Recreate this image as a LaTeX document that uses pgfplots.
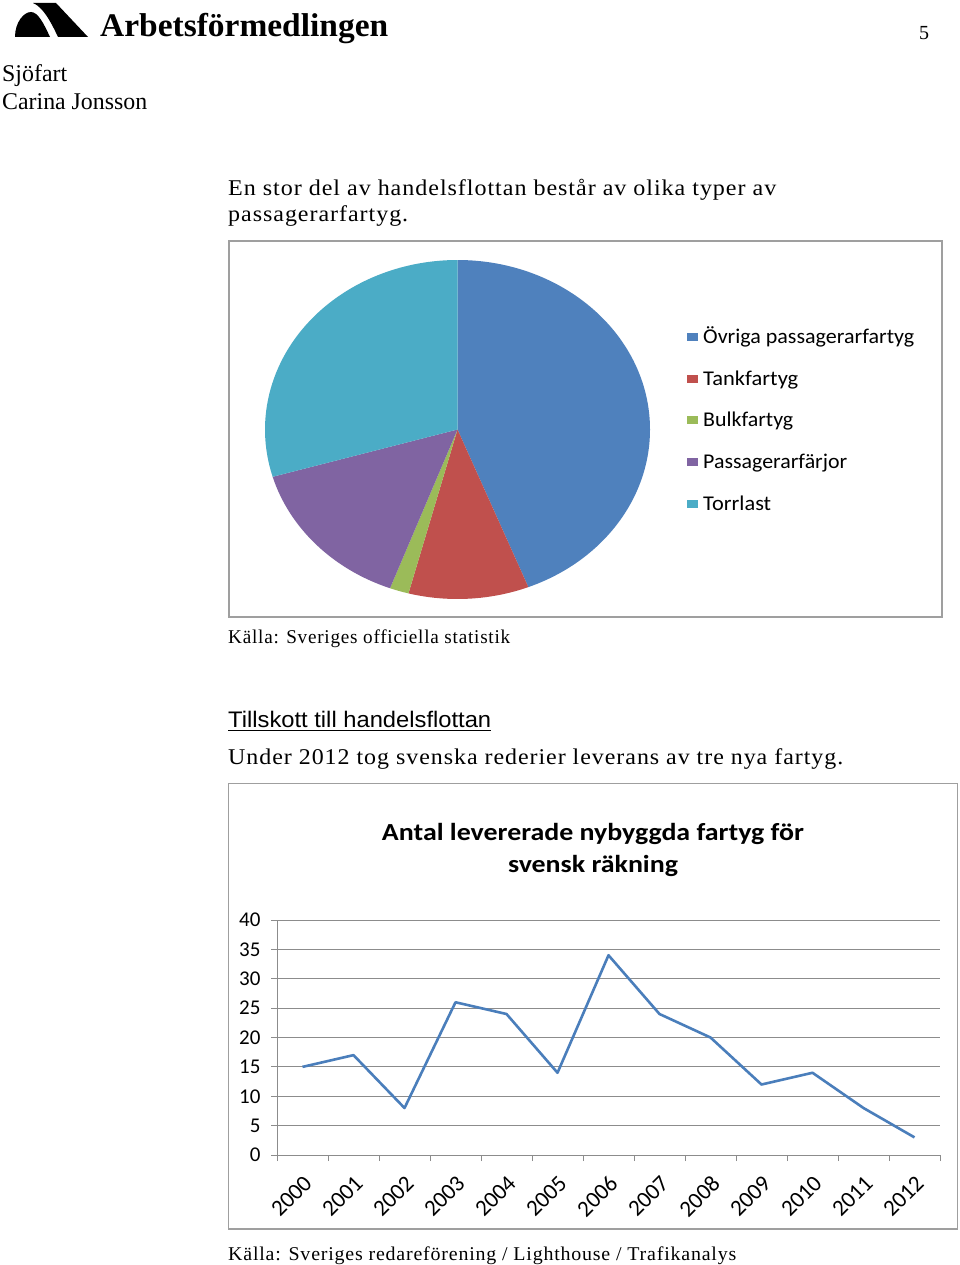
\documentclass[border=0pt]{standalone}
\usepackage{fontspec}
\usepackage{graphicx}
\usepackage{pgfplots}
\usepackage{pgfplotstable}
\pgfplotsset{compat=1.18}
\setmainfont{Liberation Serif}
\newfontfamily\spaced[LetterSpace=4]{Liberation Serif}
\newfontfamily\calibri{Carlito}
\newfontfamily\arial{Liberation Sans}
\definecolor{cBlue}{HTML}{4F81BD}
\definecolor{cRed}{HTML}{C0504D}
\definecolor{cGreen}{HTML}{9BBB59}
\definecolor{cPurple}{HTML}{8064A2}
\definecolor{cCyan}{HTML}{4BACC6}
\definecolor{cLine}{HTML}{4A7EBB}
\definecolor{cGrid}{HTML}{8C8C8C}
\newcommand\fitw[2]{\resizebox{#1}{\height}{#2}}

% share of the merchant fleet (percent)
\pgfplotstableread{
type value
Ovriga 44.0
Tank 10.1
Bulk 1.6
Farjor 14.8
Torrlast 29.5
}\piedata

% delivered new-built ships
\pgfplotstableread{
year count
2000 15
2001 17
2002 8
2003 26
2004 24
2005 14
2006 34
2007 24
2008 20
2009 12
2010 14
2011 8
2012 3
}\fleet

\begin{document}
\begin{tikzpicture}[x=1pt,y=1pt]
\useasboundingbox (0,0) rectangle (960,-1265);
\fill[white] (0,0) rectangle (960,-1265);

% ---- header ----
\fill[black] (15,-37) .. controls (15,-22) and (24,-12) .. (31,-12)
  .. controls (38,-12) and (44,-24) .. (50,-37) -- cycle;
\fill[black] (33,-3) -- (56,-3) -- (88,-37) -- (58,-37)
  .. controls (51,-22) and (43,-7) .. (33,-3) -- cycle;
\node[anchor=base west, inner sep=0] at (100,-37)
  {\fitw{288pt}{\fontsize{33}{33}\selectfont\bfseries Arbetsförmedlingen}};
\node[anchor=base west, inner sep=0] at (919,-40) {\fontsize{20}{20}\selectfont 5};
\node[anchor=base west, inner sep=0] at (2,-82) {\fitw{65pt}{\fontsize{24}{24}\selectfont Sjöfart}};
\node[anchor=base west, inner sep=0] at (2,-110) {\fitw{145pt}{\fontsize{24}{24}\selectfont Carina Jonsson}};

% ---- text ----
\node[anchor=base west, inner sep=0] at (228,-196)
  {\fitw{548pt}{\spaced\fontsize{22.5}{22.5}\selectfont En stor del av handelsflottan består av olika typer av}};
\node[anchor=base west, inner sep=0] at (228,-222)
  {\fitw{180pt}{\spaced\fontsize{22.5}{22.5}\selectfont passagerarfartyg.}};

% ---- pie chart ----
\draw[gray!75, line width=2pt] (229,-241) rectangle (942,-617);
\pgfplotstablegetelem{0}{value}\of\piedata \pgfmathsetmacro\aB{90-3.6*\pgfplotsretval}
\pgfplotstablegetelem{1}{value}\of\piedata \pgfmathsetmacro\aC{\aB-3.6*\pgfplotsretval}
\pgfplotstablegetelem{2}{value}\of\piedata \pgfmathsetmacro\aD{\aC-3.6*\pgfplotsretval}
\pgfplotstablegetelem{3}{value}\of\piedata \pgfmathsetmacro\aE{\aD-3.6*\pgfplotsretval}
\pgfplotstablegetelem{4}{value}\of\piedata \pgfmathsetmacro\aF{\aE-3.6*\pgfplotsretval}
\begin{axis}[at={(457.5pt,-429.5pt)}, anchor=center, scale only axis,
  width=385pt, height=339pt, xmin=-1, xmax=1, ymin=-1, ymax=1,
  hide axis, clip=false]
\fill[cBlue] (axis cs:0,0) -- (axis cs:{cos(90)},{sin(90)})
  arc[start angle=90, end angle=\aB, x radius=192.5pt, y radius=169.5pt] -- cycle;
\fill[cRed] (axis cs:0,0) -- (axis cs:{cos(\aB)},{sin(\aB)})
  arc[start angle=\aB, end angle=\aC, x radius=192.5pt, y radius=169.5pt] -- cycle;
\fill[cGreen] (axis cs:0,0) -- (axis cs:{cos(\aC)},{sin(\aC)})
  arc[start angle=\aC, end angle=\aD, x radius=192.5pt, y radius=169.5pt] -- cycle;
\fill[cPurple] (axis cs:0,0) -- (axis cs:{cos(\aD)},{sin(\aD)})
  arc[start angle=\aD, end angle=\aE, x radius=192.5pt, y radius=169.5pt] -- cycle;
\fill[cCyan] (axis cs:0,0) -- (axis cs:{cos(\aE)},{sin(\aE)})
  arc[start angle=\aE, end angle=\aF, x radius=192.5pt, y radius=169.5pt] -- cycle;
\end{axis}
% legend
\fill[cBlue]   (686.5,-332.5) rectangle (698,-340.5);
\fill[cRed]    (686.5,-374.5) rectangle (698,-382.5);
\fill[cGreen]  (686.5,-416) rectangle (698,-424);
\fill[cPurple] (686.5,-458) rectangle (698,-466);
\fill[cCyan]   (686.5,-499.5) rectangle (698,-507.5);
\node[anchor=base west, inner sep=0] at (703,-343) {\fitw{211pt}{\calibri\fontsize{21}{21}\selectfont Övriga passagerarfartyg}};
\node[anchor=base west, inner sep=0] at (703,-385) {\fitw{95pt}{\calibri\fontsize{21}{21}\selectfont Tankfartyg}};
\node[anchor=base west, inner sep=0] at (703,-426.5) {\fitw{90pt}{\calibri\fontsize{21}{21}\selectfont Bulkfartyg}};
\node[anchor=base west, inner sep=0] at (703,-468) {\fitw{144pt}{\calibri\fontsize{21}{21}\selectfont Passagerarfärjor}};
\node[anchor=base west, inner sep=0] at (703,-510) {\fitw{68pt}{\calibri\fontsize{21}{21}\selectfont Torrlast}};

\node[anchor=base west, inner sep=0] at (228,-643)
  {\fitw{282pt}{\spaced\fontsize{19.5}{19.5}\selectfont Källa: Sveriges officiella statistik}};
\node[anchor=base west, inner sep=0] at (228,-727)
  {\fitw{263pt}{\arial\fontsize{22.5}{22.5}\selectfont Tillskott till handelsflottan}};
\draw[black, line width=1.4pt] (228,-730.5) -- (491,-730.5);
\node[anchor=base west, inner sep=0] at (228,-764)
  {\fitw{615pt}{\spaced\fontsize{22.5}{22.5}\selectfont Under 2012 tog svenska rederier leverans av tre nya fartyg.}};

% ---- line chart ----
\draw[gray!75, line width=1.5pt] (228.5,-783.5) rectangle (957.5,-1229);
\node[anchor=base, inner sep=0] at (593,-840)
  {\fitw{422pt}{\calibri\bfseries\fontsize{24.5}{24.5}\selectfont Antal levererade nybyggda fartyg för}};
\node[anchor=base, inner sep=0] at (593,-872)
  {\fitw{170pt}{\calibri\bfseries\fontsize{24.5}{24.5}\selectfont svensk räkning}};
\begin{axis}[at={(277pt,-1155pt)}, anchor=south west, scale only axis,
  width=663pt, height=235pt,
  xmin=-0.5, xmax=12.5, ymin=0, ymax=40,
  ytick={0,5,...,40},
  xtick={0,...,12},
  xticklabels from table={\fleet}{year},
  minor xtick={-0.5,0.5,...,12.5},
  axis x line*=bottom, axis y line*=left,
  axis line style={cGrid, line width=0.9pt, -},
  ymajorgrids, grid style={cGrid, line width=0.9pt},
  tick align=outside,
  major tick length=6pt, minor tick length=6pt,
  major x tick style={draw=none},
  minor x tick style={cGrid, line width=0.9pt},
  y tick style={cGrid, line width=0.9pt},
  /pgf/number format/assume math mode=true,
  yticklabel style={font=\calibri\fontsize{21}{21}\selectfont, anchor=east, xshift=-7pt},
  xticklabel style={font=\calibri\fontsize{23}{23}\selectfont, rotate=45, anchor=east, xshift=-6pt, yshift=-17pt},
  clip=false]
\addplot[cLine, line width=2.6pt, line join=round, mark=none]
  table[x expr=\coordindex, y=count] {\fleet};
\end{axis}
\node[anchor=base west, inner sep=0] at (228,-1260)
  {\fitw{508pt}{\spaced\fontsize{19.5}{19.5}\selectfont Källa: Sveriges redareförening / Lighthouse / Trafikanalys}};
\end{tikzpicture}
\end{document}
